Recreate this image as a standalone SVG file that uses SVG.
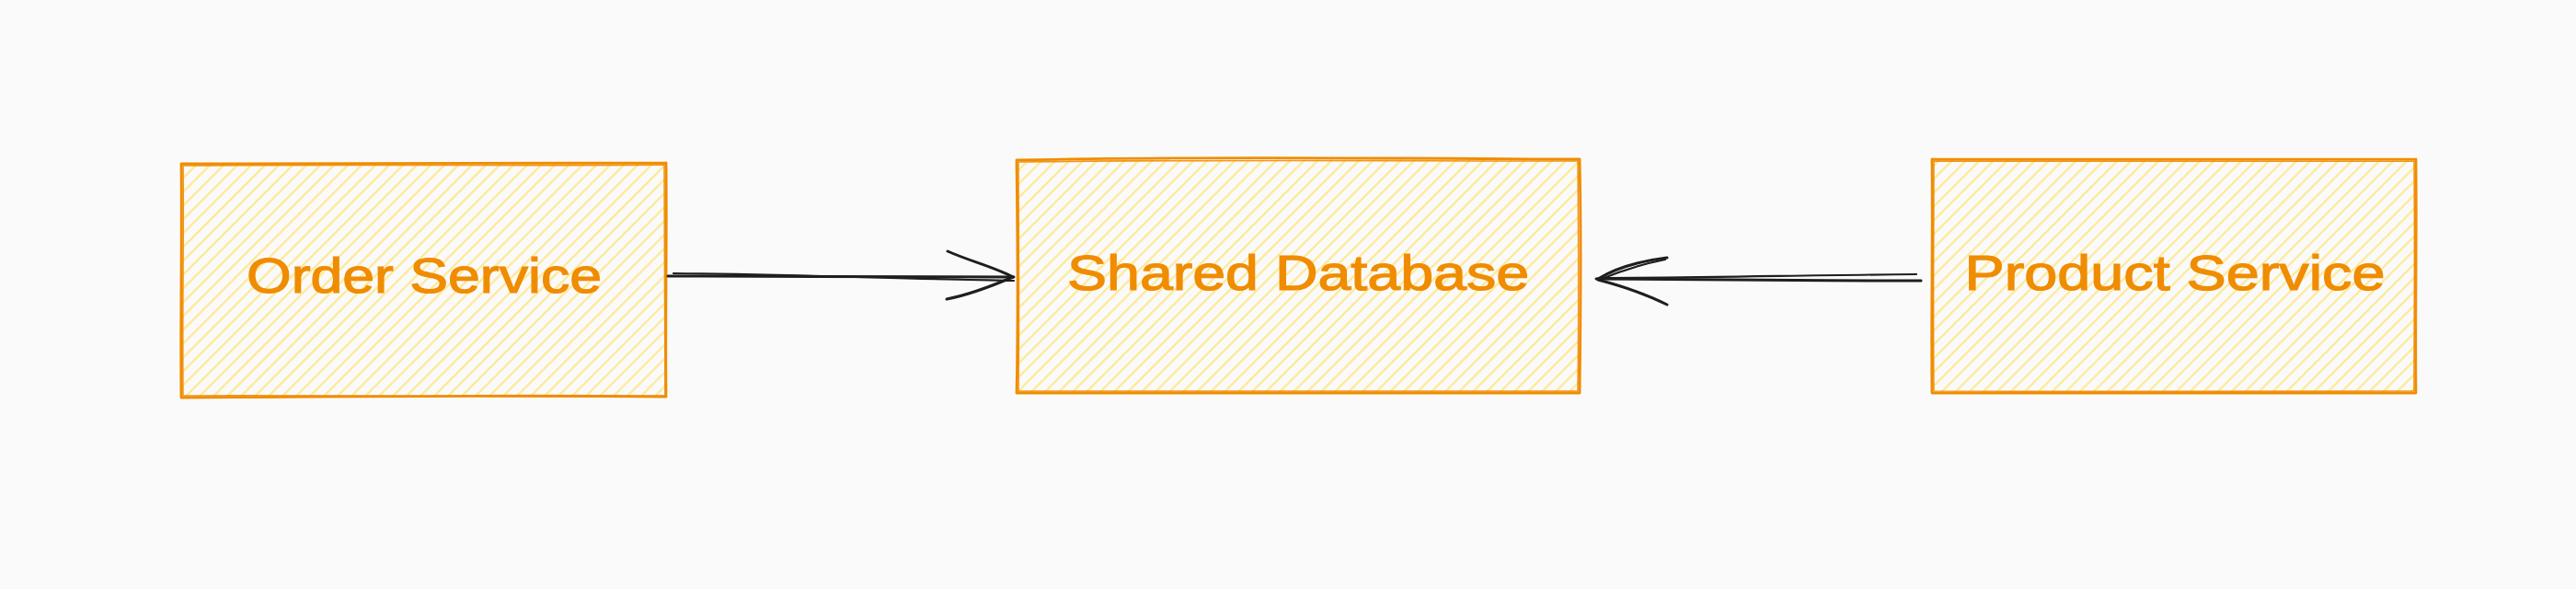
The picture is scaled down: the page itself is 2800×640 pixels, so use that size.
<svg xmlns="http://www.w3.org/2000/svg" width="2800" height="640" viewBox="0 0 2800 640">
  <style>
    .bg { fill: #fafafa; }
    .hatch { fill: url(#hachure); stroke: none; }
    .edge { fill: none; stroke: #f08c00; stroke-width: 2.8; stroke-linecap: round; stroke-linejoin: round; }
    .edge2 { fill: none; stroke: #f08c00; stroke-width: 1.6; stroke-linecap: round; opacity: 0.9; }
    .label { font-family: "Liberation Sans", "DejaVu Sans", sans-serif; font-size: 54px; fill: #f08c00; stroke: #f08c00; stroke-width: 1.2; text-anchor: middle; }
    .conn { fill: none; stroke: #1e1e1e; stroke-width: 3; stroke-linecap: round; stroke-linejoin: round; }
    .conn2 { fill: none; stroke: #1e1e1e; stroke-width: 2.2; stroke-linecap: round; }
  </style>
  <defs>
    <pattern id="hachure" patternUnits="userSpaceOnUse" width="10.6" height="20" patternTransform="rotate(45)">
      <line x1="2" y1="0" x2="2" y2="20" stroke="#ffe892" stroke-width="2.2"/>
    </pattern>
  </defs>
  <rect class="bg" x="0" y="0" width="2800" height="640"/>

  <g id="order-service">
    <path class="hatch" d="M198 179 L723 178 L723 430 L198 431 Z"/>
    <path class="edge" d="M197 178 C380 177 560 178 724 177 M724 177 C725 260 723 350 724 431 M724 431 C560 429 380 431 197 432 M197 432 C196 350 198 260 197 178"/>
    <path class="edge2" d="M199 180 C400 178 600 181 722 179 M722 180 C723 270 722 360 723 429 M722 430 C540 432 360 429 199 430 M199 430 C198 340 200 250 199 180"/>
    <text class="label" x="461" y="318" textLength="386" lengthAdjust="spacingAndGlyphs">Order Service</text>
  </g>

  <g id="shared-database">
    <path class="hatch" d="M1106 174 L1716 173 L1716 426 L1106 427 Z"/>
    <path class="edge" d="M1105 174 C1300 170 1520 172 1717 173 M1717 173 C1719 260 1718 350 1717 427 M1717 427 C1500 428 1300 427 1105 427 M1105 427 C1107 340 1106 250 1105 174"/>
    <path class="edge2" d="M1107 176 C1320 173 1530 175 1715 175 M1715 175 C1716 270 1716 350 1715 425 M1715 425 C1500 425 1300 426 1107 425 M1107 425 C1108 330 1107 250 1107 176"/>
    <text class="label" x="1411" y="315" textLength="502" lengthAdjust="spacingAndGlyphs">Shared Database</text>
  </g>

  <g id="product-service">
    <path class="hatch" d="M2101 174 L2625 174 L2625 426 L2101 426 Z"/>
    <path class="edge" d="M2100 173 C2280 172 2450 174 2626 173 M2626 173 C2627 260 2625 350 2626 427 M2626 427 C2450 428 2280 426 2100 427 M2100 427 C2099 340 2101 260 2100 173"/>
    <path class="edge2" d="M2102 175 C2300 175 2460 176 2624 175 M2624 175 C2625 270 2624 350 2624 425 M2624 425 C2440 425 2280 426 2102 425 M2102 425 C2101 330 2102 250 2102 175"/>
    <text class="label" x="2364" y="315" textLength="457" lengthAdjust="spacingAndGlyphs">Product Service</text>
  </g>

  <g id="connectors">
    <g id="order-to-db">
      <path class="conn" d="M726 300 C850 300 980 301 1102 301"/>
      <path class="conn2" d="M732 297 C860 298 980 303 1102 305"/>
      <path class="conn" d="M1030 273 C1055 284 1080 290 1101 301"/>
      <path class="conn" d="M1029 325 C1055 320 1080 310 1101 301"/>
    </g>
    <g id="product-to-db">
      <path class="conn" d="M2088 305 C1970 305 1850 304 1735 303"/>
      <path class="conn2" d="M2083 298 C1960 299 1850 302 1738 302"/>
      <path class="conn" d="M1812 280 C1780 284 1755 292 1737 303"/>
      <path class="conn2" d="M1810 282 C1785 287 1760 295 1741 303"/>
      <path class="conn" d="M1812 331 C1790 320 1760 310 1737 304"/>
    </g>
  </g>
</svg>
